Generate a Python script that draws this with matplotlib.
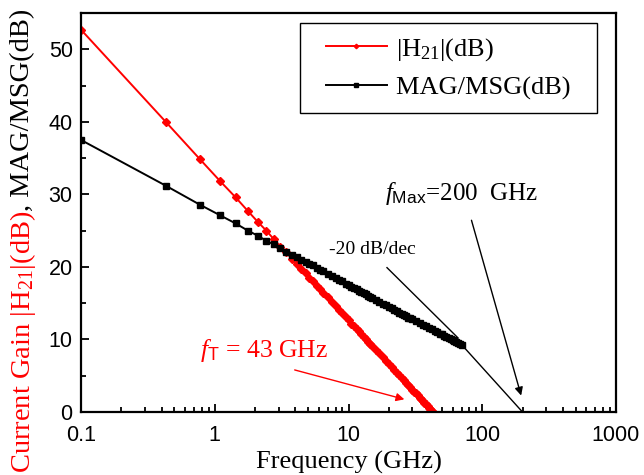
import matplotlib
matplotlib.use("Agg")
import matplotlib.pyplot as plt
from matplotlib.legend_handler import HandlerLine2D

h21_freq = [0.1, 0.43, 0.77, 1.1, 1.43, 1.77, 2.1, 2.43, 2.77, 3.1, 3.43, 3.77, 4.1, 4.43,
            4.77, 5.1, 5.43, 5.77, 6.1, 6.5, 7.0, 7.5, 8.0, 8.5, 9.0, 9.5, 10, 10.5, 11,
            11.5, 12, 12.5, 13, 13.5, 14, 14.5, 15, 16, 17, 18, 19, 20, 21, 22, 23, 24,
            25, 26, 27, 28, 29, 30, 31, 32, 33, 34, 35, 36, 37, 38, 39, 40, 41, 42, 43]
h21_db = [52.7, 40.0, 34.9, 31.8, 29.6, 27.7, 26.2, 25.0, 23.8, 22.8, 22.0, 21.1, 20.4, 19.7,
          19.1, 18.5, 18.0, 17.4, 17.0, 16.4, 15.8, 15.2, 14.6, 14.1, 13.6, 13.1, 12.7, 12.2, 11.8,
          11.5, 11.1, 10.7, 10.4, 10.1, 9.7, 9.4, 9.1, 8.6, 8.1, 7.6, 7.1, 6.6, 6.2, 5.8, 5.4, 5.1,
          4.7, 4.4, 4.0, 3.7, 3.4, 3.1, 2.8, 2.6, 2.3, 2.0, 1.8, 1.5, 1.3, 1.1, 0.8, 0.6, 0.4, 0.2, 0.0]

mag_freq = [0.1, 0.43, 0.77, 1.1, 1.43, 1.77, 2.1, 2.43, 2.77, 3.1, 3.43, 3.77, 4.1, 4.43,
            4.77, 5.1, 5.43, 5.77, 6.1, 6.5, 7.0, 7.5, 8.0, 8.5, 9.0, 9.5, 10, 10.5, 11,
            11.5, 12, 12.5, 13, 13.5, 14, 14.5, 15, 16, 17, 18, 19, 20, 21, 22, 23, 24,
            25, 26, 27, 28, 29, 30, 32, 34, 36, 38, 40, 42, 44, 46, 48, 50, 52, 54, 56,
            58, 60, 62, 64, 66, 68, 70]
mag_db = [37.5, 31.2, 28.6, 27.1, 26.0, 25.0, 24.3, 23.6, 23.1, 22.6, 22.1, 21.7, 21.4, 21.0,
          20.7, 20.4, 20.2, 19.9, 19.6, 19.4, 19.0, 18.8, 18.5, 18.2, 18.0, 17.7, 17.5, 17.3, 17.1,
          16.9, 16.7, 16.5, 16.4, 16.2, 16.0, 15.9, 15.7, 15.5, 15.2, 14.9, 14.7, 14.5, 14.3, 14.1,
          13.9, 13.7, 13.5, 13.4, 13.2, 13.0, 12.9, 12.8, 12.5, 12.3, 12.0, 11.8, 11.6, 11.4, 11.2,
          11.0, 10.8, 10.7, 10.5, 10.3, 10.2, 10.0, 9.9, 9.8, 9.6, 9.5, 9.4, 9.3]

# -20 dB/dec extrapolation of MAG/MSG down to fmax
extrap_freq = [70, 200]
extrap_db = [9.3, 0.0]

plt.rcParams["font.family"] = "Liberation Serif"
plt.rcParams["mathtext.fontset"] = "custom"
plt.rcParams["mathtext.rm"] = "Liberation Serif"
plt.rcParams["mathtext.it"] = "Liberation Serif:italic"
plt.rcParams["mathtext.sf"] = "Liberation Sans"

RED = "#ff0000"

fig = plt.figure(figsize=(6.44, 4.75), dpi=100)
ax = fig.add_axes([0.1258, 0.1326, 0.8307, 0.840])

ax.plot(h21_freq, h21_db, color=RED, lw=1.4, marker="D", ms=3.8, label="|H$_{21}$|(dB)")
ax.plot(mag_freq, mag_db, color="black", lw=1.4, marker="s", ms=4.0, label="MAG/MSG(dB)  ")
ax.plot(extrap_freq, extrap_db, color="black", lw=1.0)

ax.set_xscale("log")
ax.set_xlim(0.1, 1000)
ax.set_ylim(0, 55)
ax.set_yticks([0, 10, 20, 30, 40, 50])
ax.set_yticks([5, 15, 25, 35, 45], minor=True)
ax.set_xticks([0.1, 1, 10, 100, 1000])
ax.set_xticklabels(["0.1", "1", "10", "100", "1000"])

for s in ax.spines.values():
    s.set_linewidth(1.6)
ax.tick_params(which="both", direction="in", width=1.3, labelsize=15.5,
               labelfontfamily="Liberation Sans")
ax.tick_params(which="major", length=6)
ax.tick_params(which="minor", length=3.5)
ax.tick_params(axis="x", which="major", pad=9)
ax.tick_params(axis="y", which="major", pad=6)

ax.set_xlabel("Frequency (GHz)", fontsize=19, labelpad=4)

# two-colour y label
ylab = fig.text(0.035, 0.004, "Current Gain |H$_{21}$|(dB)", color=RED, fontsize=20.5,
                rotation=90, ha="center", va="bottom")
ax.annotate(", MAG/MSG(dB)", xy=(0.5, 1.0), xycoords=ylab, color="black", fontsize=20.5,
            rotation=90, ha="center", va="bottom", annotation_clip=False)

leg = ax.legend(loc="upper right", bbox_to_anchor=(0.9645, 0.975), fontsize=19,
                fancybox=False, edgecolor="black", framealpha=1, handlelength=2.8,
                handletextpad=0.35, borderpad=0.5, labelspacing=0.5, borderaxespad=0,
                markerscale=0.6,
                handler_map={matplotlib.lines.Line2D: HandlerLine2D(xpad=0.5)})
leg.get_frame().set_linewidth(1.0)

ax.text(7.15, 22.4, "-20 dB/dec", fontsize=14, va="center")
ax.plot([19.4, 66], [19.9, 10.2], color="black", lw=1.0)

ax.text(18.7, 30.1, r"$f_{\mathsf{Max}}$=200  GHz", fontsize=18, va="center")
ax.annotate("", xy=(198, 1.9), xytext=(82, 26.8),
            arrowprops=dict(arrowstyle="-|>", color="black", lw=1.0, mutation_scale=12))

ax.text(0.776, 8.5, r"$f_{\mathsf{T}}$ = 43 GHz", fontsize=18.5, va="center", color=RED)
ax.annotate("", xy=(27.4, 1.65), xytext=(3.78, 5.9),
            arrowprops=dict(arrowstyle="-|>", color=RED, lw=1.0, mutation_scale=12))

fig.savefig("out.png", dpi=100)
